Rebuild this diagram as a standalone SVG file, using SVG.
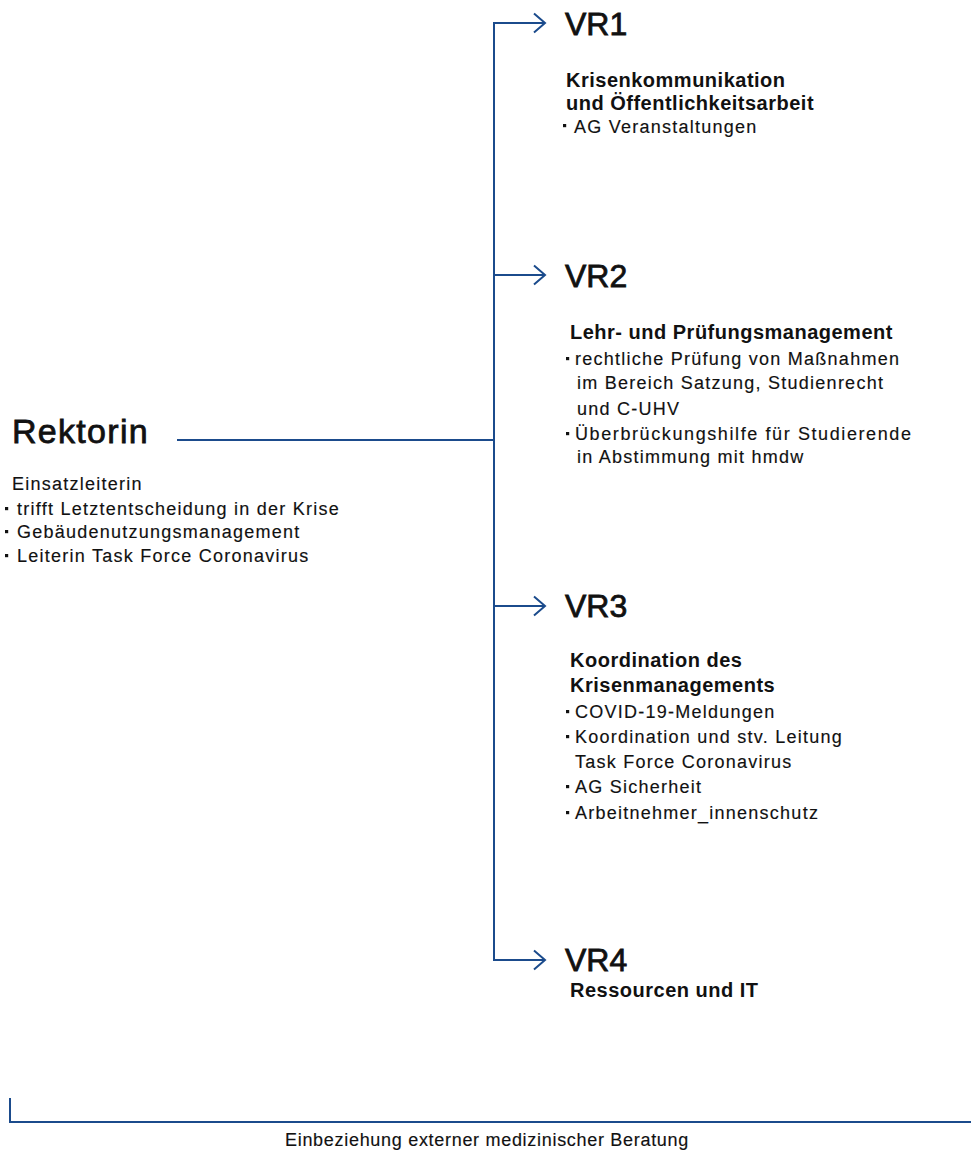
<svg xmlns="http://www.w3.org/2000/svg" width="971" height="1154" viewBox="0 0 971 1154">
<defs>
<style>
.t{font-family:"Liberation Sans",Arial,sans-serif;fill:#111;}
.vr{font-size:32px;stroke:#111;stroke-width:0.8px;}
.big{font-size:34px;letter-spacing:1.3px;stroke:#111;stroke-width:0.8px;}
.h{font-size:20px;font-weight:bold;letter-spacing:0.5px;}
.r{font-size:18px;letter-spacing:1.25px;stroke:#111;stroke-width:0.15px;}
.ln{fill:none;stroke:#1b4b8c;stroke-width:2;}
.b{fill:#111;}
</style>
<rect id="bul" width="3.2" height="3.2"/>
</defs>
<rect width="971" height="1154" fill="#fff"/>
<g id="connectors">
<path class="ln" d="M545,23 H494 V960 H545"/>
<path class="ln" d="M494,275 H545"/>
<path class="ln" d="M494,606 H545"/>
<path class="ln" d="M177,440 H494"/>
<path class="ln" d="M534,13.5 L545,23 L534,32.5"/>
<path class="ln" d="M534,265.5 L545,275 L534,284.5"/>
<path class="ln" d="M534,596.5 L545,606 L534,615.5"/>
<path class="ln" d="M534,950.5 L545,960 L534,969.5"/>
<path class="ln" d="M10,1098 V1122 H971"/>
</g>
<g id="vr1">
<text class="t vr" x="565" y="35">VR1</text>
<text class="t h" x="566" y="87">Krisenkommunikation</text>
<text class="t h" x="566" y="110">und Öffentlichkeitsarbeit</text>
<use href="#bul" class="b" x="563" y="124"/>
<text class="t r" x="574" y="133">AG Veranstaltungen</text>
</g>
<g id="vr2">
<text class="t vr" x="565" y="287">VR2</text>
<text class="t h" x="570" y="339">Lehr- und Prüfungsmanagement</text>
<use href="#bul" class="b" x="566" y="357"/>
<text class="t r" x="575" y="365">rechtliche Prüfung von Maßnahmen</text>
<text class="t r" x="577" y="389">im Bereich Satzung, Studienrecht</text>
<text class="t r" x="577" y="415">und C-UHV</text>
<use href="#bul" class="b" x="566" y="432"/>
<text class="t r" x="575" y="440" style="letter-spacing:1.6px">Überbrückungshilfe für Studierende</text>
<text class="t r" x="577" y="463">in Abstimmung mit hmdw</text>
</g>
<g id="vr3">
<text class="t vr" x="565" y="617">VR3</text>
<text class="t h" x="570" y="667">Koordination des</text>
<text class="t h" x="570" y="692">Krisenmanagements</text>
<use href="#bul" class="b" x="566" y="710"/>
<text class="t r" x="575" y="718">COVID-19-Meldungen</text>
<use href="#bul" class="b" x="566" y="735"/>
<text class="t r" x="575" y="743">Koordination und stv. Leitung</text>
<text class="t r" x="575" y="768">Task Force Coronavirus</text>
<use href="#bul" class="b" x="566" y="785"/>
<text class="t r" x="575" y="793">AG Sicherheit</text>
<use href="#bul" class="b" x="566" y="811"/>
<text class="t r" x="575" y="819">Arbeitnehmer_innenschutz</text>
</g>
<g id="vr4">
<text class="t vr" x="565" y="971">VR4</text>
<text class="t h" x="570" y="997">Ressourcen und IT</text>
</g>
<g id="rektorin">
<text class="t big" x="12" y="443">Rektorin</text>
<text class="t r" x="12" y="490">Einsatzleiterin</text>
<use href="#bul" class="b" x="5" y="507"/>
<text class="t r" x="17" y="515">trifft Letztentscheidung in der Krise</text>
<use href="#bul" class="b" x="5" y="530"/>
<text class="t r" x="17" y="538">Gebäudenutzungsmanagement</text>
<use href="#bul" class="b" x="5" y="554"/>
<text class="t r" x="17" y="562">Leiterin Task Force Coronavirus</text>
</g>
<g id="extern">
<text class="t r" x="487" y="1146" text-anchor="middle" style="letter-spacing:0.7px">Einbeziehung externer medizinischer Beratung</text>
</g>
</svg>
